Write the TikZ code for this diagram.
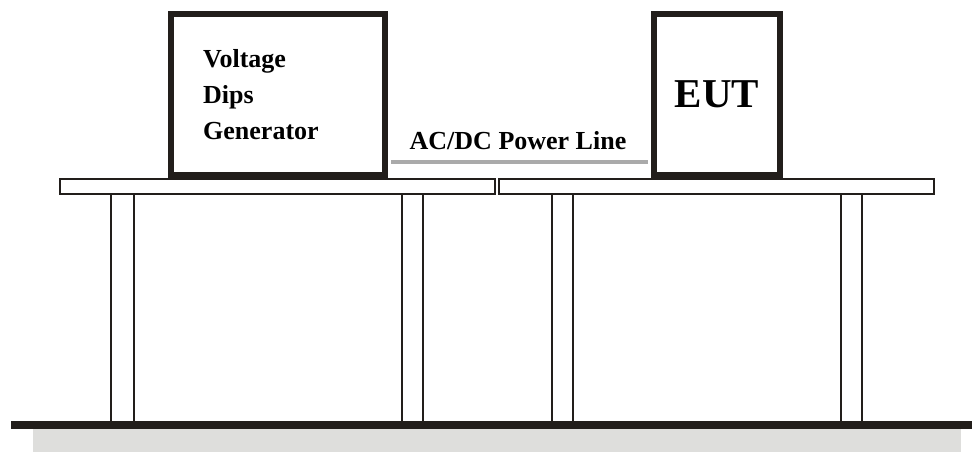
\documentclass[tikz,border=0pt]{standalone}
\usepackage{fontspec}
\setmainfont{Liberation Serif}
\usepackage{xcolor}
\usepackage{tikz}
\usetikzlibrary{positioning}

\definecolor{ink}{RGB}{34,30,27}
\definecolor{cable}{RGB}{170,170,170}
\definecolor{floorgray}{RGB}{222,222,220}

\begin{document}
\begin{tikzpicture}[x=1pt,y=-1pt,
		unitbox/.style={draw=ink, line width=6pt, fill=white, inner sep=0pt},
		bench/.style={draw=ink, line width=2pt},
		leg/.style={draw=ink, line width=2pt},
		powerline/.style={draw=cable, line width=4.5pt, shorten <=3pt, shorten >=3pt}]
				\useasboundingbox (0,0) rectangle (972,452);
				
				\fill[floorgray] (33,429) rectangle (961,452);
				\fill[ink] (11,421) rectangle (972,429);
				
				\foreach \a/\b in {111/134, 402/423, 552/573, 841/862}{
					\draw[leg] (\a,195) -- (\a,421);
					\draw[leg] (\b,195) -- (\b,421);
				}
				
				\draw[bench] (60,179) rectangle (495,194);
				\draw[bench] (499,179) rectangle (934,194);
				
				\node[unitbox, minimum width=214pt, minimum height=161pt] (gen) at (278,94.5) {};
				\node[unitbox, minimum width=126pt, minimum height=161pt,
					font=\fontsize{41}{41}\selectfont\bfseries] (eut) at (717,94.5) {EUT};
				
				\node[anchor=base west, inner sep=0pt, align=left,
					font=\fontsize{26}{35.5}\selectfont\bfseries] (gentext) at (203,139)
					{Voltage\\Dips\\Generator};
				
				\coordinate (pl) at (0,162);
				\draw[powerline] (gen.east |- pl) -- (eut.west |- pl);
				\node[anchor=base, inner sep=0pt, font=\fontsize{26}{26}\selectfont\bfseries]
					(pltext) at (518,149) {AC/DC Power Line};
			\end{tikzpicture}
\end{document}
